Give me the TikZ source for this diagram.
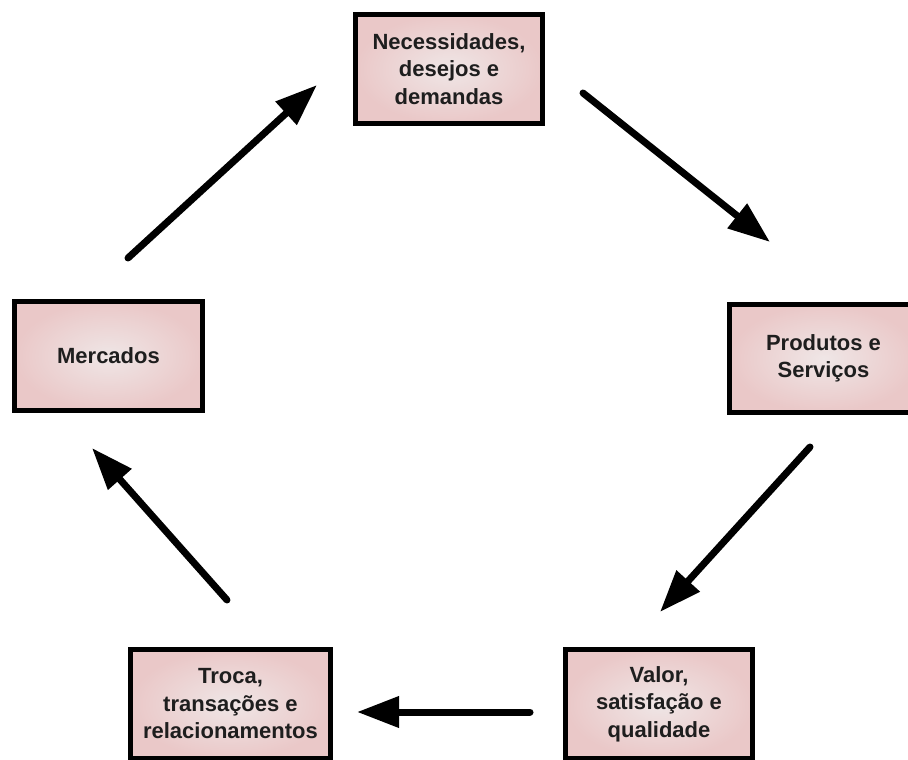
\documentclass[tikz,border=0pt]{standalone}
\usepackage{fontspec}
\setmainfont{Liberation Sans}
\usetikzlibrary{arrows.meta}
\definecolor{boxin}{HTML}{EFE6E6}
\definecolor{boxout}{HTML}{EAC8C8}
\definecolor{txt}{HTML}{1E1E1E}
\begin{document}
\begin{tikzpicture}[x=1pt,y=-1pt,
  box/.style={draw=black, line width=5pt, inner color=boxin, outer color=boxout,
    minimum height=109pt, align=center, text=txt,
    font=\fontsize{22}{27.5}\selectfont\bfseries},
  flow/.style={line width=7pt, line cap=round, -{Triangle[length=42pt,width=30pt]}}]
\useasboundingbox (0,0) rectangle (908,760);
\node[box, minimum width=187pt] (need) at (449,69) {Necessidades,\\desejos e\\demandas};
\node[box, minimum width=188pt] (merc) at (108.5,356) {Mercados};
\node[box, minimum width=188pt, minimum height=108pt] (prod) at (823.5,358.5) {Produtos e\\Serviços};
\node[box, minimum width=200pt] (troca) at (230.5,704) {Troca,\\transações e\\relacionamentos};
\node[box, minimum width=187pt] (valor) at (659,704) {Valor,\\satisfação e\\qualidade};
\coordinate (a1s) at (128,258); \coordinate (a1e) at (317,85);
\coordinate (a2s) at (583,93);  \coordinate (a2e) at (770,242);
\coordinate (a3s) at (810,447); \coordinate (a3e) at (660,612);
\coordinate (a4s) at (530,712); \coordinate (a4e) at (357,712);
\coordinate (a5s) at (227,600); \coordinate (a5e) at (92,448);
\draw[flow] (a1s) -- (a1e);
\draw[flow] (a2s) -- (a2e);
\draw[flow] (a3s) -- (a3e);
\draw[flow] (a4s) -- (a4e);
\draw[flow] (a5s) -- (a5e);
\end{tikzpicture}
\end{document}
